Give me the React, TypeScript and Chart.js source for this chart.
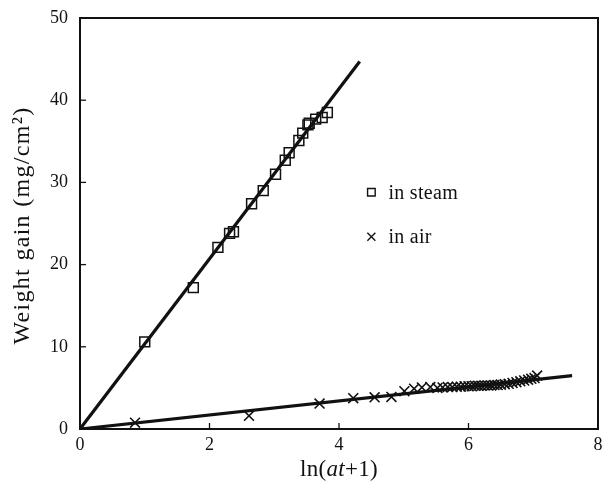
import React, { useEffect, useRef } from 'react';
import { Chart, registerables } from 'chart.js';

Chart.register(...registerables);

// ---- data ----
const steamX = [1.0, 1.75, 2.13, 2.31, 2.37, 2.65, 2.83, 3.02, 3.17, 3.23, 3.38, 3.44, 3.52, 3.54, 3.64, 3.74, 3.82];
const steamY = [10.6, 17.2, 22.1, 23.8, 24.0, 27.4, 29.0, 31.0, 32.7, 33.6, 35.1, 36.0, 37.0, 37.2, 37.7, 37.9, 38.5];

const airX = [0.85, 2.61, 3.70, 4.22, 4.55, 4.81, 5.01, 5.16, 5.28, 5.41, 5.52, 5.60, 5.68, 5.75, 5.82, 5.88, 5.94, 6.00, 6.05, 6.10, 6.15, 6.20, 6.25, 6.30, 6.35, 6.40, 6.45, 6.50, 6.56, 6.62, 6.68, 6.74, 6.80, 6.86, 6.92, 6.97, 7.02, 7.06];
const airY = [0.77, 1.6, 3.1, 3.75, 3.85, 3.9, 4.6, 4.9, 5.05, 5.1, 5.0, 5.05, 5.1, 5.1, 5.15, 5.15, 5.2, 5.2, 5.2, 5.25, 5.25, 5.25, 5.3, 5.3, 5.3, 5.35, 5.35, 5.4, 5.45, 5.5, 5.6, 5.7, 5.8, 5.9, 6.0, 6.1, 6.2, 6.5];

const steamFitX = [0, 4.32];
const steamFitY = [0, 44.7];
const airFitX = [0, 7.6];
const airFitY = [0, 6.5];

const xTicks = [0, 2, 4, 6, 8];
const yTicks = [0, 10, 20, 30, 40, 50];
const legendLabels = ['in steam', 'in air'];
const legendPos = [[4.5, 28.8], [4.5, 23.4]];
const yTitle = 'Weight gain (mg/cm²)';

const FONT = '"Liberation Serif", "DejaVu Serif", serif';

const toPts = (xs: number[], ys: number[]) => xs.map((x, i) => ({ x, y: ys[i] }));

const framePlugin = {
  id: 'frame',
  afterDraw(chart: any) {
    const { ctx, chartArea: a, scales } = chart;
    ctx.save();
    ctx.strokeStyle = '#111';
    ctx.lineWidth = 2;
    ctx.strokeRect(a.left, a.top, a.right - a.left, a.bottom - a.top);
    // inward ticks
    ctx.lineWidth = 1.3;
    xTicks.forEach((v) => {
      const px = scales.x.getPixelForValue(v);
      ctx.beginPath();
      ctx.moveTo(px, a.bottom);
      ctx.lineTo(px, a.bottom - 6);
      ctx.stroke();
    });
    yTicks.forEach((v) => {
      const py = scales.y.getPixelForValue(v);
      ctx.beginPath();
      ctx.moveTo(a.left, py);
      ctx.lineTo(a.left + 6, py);
      ctx.stroke();
    });

    // legend
    ctx.fillStyle = '#111';
    ctx.font = `20px ${FONT}`;
    ctx.textBaseline = 'middle';
    ctx.textAlign = 'left';
    try { (ctx as any).letterSpacing = '0.3px'; } catch (e) {}
    legendPos.forEach(([lx, ly], i) => {
      const px = scales.x.getPixelForValue(lx);
      const py = scales.y.getPixelForValue(ly);
      ctx.lineWidth = 1.4;
      ctx.beginPath();
      if (i === 0) {
        ctx.rect(px - 3.8, py - 3.8, 7.6, 7.6);
      } else {
        ctx.moveTo(px - 4, py - 4);
        ctx.lineTo(px + 4, py + 4);
        ctx.moveTo(px + 4, py - 4);
        ctx.lineTo(px - 4, py + 4);
      }
      ctx.stroke();
      ctx.fillText(legendLabels[i], px + 17, py + 1);
    });

    // x title: ln(at+1) with italic "at"
    try { (ctx as any).letterSpacing = '0.3px'; } catch (e) {}
    const parts: [string, boolean][] = [['ln(', false], ['at', true], ['+1)', false]];
    let total = 0;
    parts.forEach(([t, it]) => {
      ctx.font = `${it ? 'italic ' : ''}23px ${FONT}`;
      total += ctx.measureText(t).width;
    });
    let cx = (a.left + a.right) / 2 - total / 2;
    ctx.textBaseline = 'alphabetic';
    parts.forEach(([t, it]) => {
      ctx.font = `${it ? 'italic ' : ''}23px ${FONT}`;
      ctx.fillText(t, cx, 476);
      cx += ctx.measureText(t).width;
    });

    // y title
    ctx.save();
    try { (ctx as any).letterSpacing = '1.3px'; } catch (e) {}
    ctx.translate(23, (a.top + a.bottom) / 2 + 2);
    ctx.rotate(-Math.PI / 2);
    ctx.font = `24px ${FONT}`;
    ctx.textAlign = 'center';
    ctx.textBaseline = 'middle';
    ctx.fillText(yTitle, 0, 0);
    ctx.restore();

    ctx.restore();
  },
};

export default function App() {
  const ref = useRef<HTMLCanvasElement | null>(null);

  useEffect(() => {
    if (!ref.current) return;
    const chart = new Chart(ref.current, {
      type: 'scatter',
      data: {
        datasets: [
          {
            label: 'steam fit',
            data: toPts(steamFitX, steamFitY),
            showLine: true,
            borderColor: '#111',
            borderWidth: 3.2,
            pointRadius: 0,
          },
          {
            label: 'air fit',
            data: toPts(airFitX, airFitY),
            showLine: true,
            borderColor: '#111',
            borderWidth: 3.2,
            pointRadius: 0,
          },
          {
            label: legendLabels[0],
            data: toPts(steamX, steamY),
            pointStyle: 'rect',
            pointRadius: 7,
            pointBorderWidth: 1.5,
            pointBorderColor: '#111',
            pointBackgroundColor: 'rgba(0,0,0,0)',
            showLine: false,
          },
          {
            label: legendLabels[1],
            data: toPts(airX, airY),
            pointStyle: 'crossRot',
            pointRadius: 7,
            pointBorderWidth: 1.6,
            pointBorderColor: '#111',
            showLine: false,
          },
        ],
      },
      options: {
        animation: false,
        responsive: false,
        maintainAspectRatio: false,
        layout: { autoPadding: false, padding: { top: 18, right: 4, left: 0, bottom: 0 } },
        plugins: { legend: { display: false }, tooltip: { enabled: false } },
        scales: {
          x: {
            type: 'linear',
            min: 0,
            max: 8,
            afterBuildTicks: (s: any) => {
              s.ticks = xTicks.map((v) => ({ value: v }));
            },
            afterFit: (s: any) => {
              s.height = 56;
              s.paddingLeft = 0;
              s.paddingRight = 0;
            },
            grid: { display: false, drawTicks: false },
            border: { display: false },
            ticks: { color: '#111', font: { family: FONT, size: 18 }, padding: 5, maxRotation: 0 },
          },
          y: {
            type: 'linear',
            min: 0,
            max: 50,
            afterBuildTicks: (s: any) => {
              s.ticks = yTicks.map((v) => ({ value: v }));
            },
            afterFit: (s: any) => {
              s.width = 80;
              s.paddingTop = 0;
              s.paddingBottom = 0;
            },
            grid: { display: false, drawTicks: false },
            border: { display: false },
            ticks: { color: '#111', font: { family: FONT, size: 18 }, padding: 12 },
          },
        },
      },
      plugins: [framePlugin],
    });
    return () => chart.destroy();
  }, []);

  return (
    <div style={{ position: 'fixed', left: 0, top: 0, width: 602, height: 485, background: '#fff' }}>
      <canvas ref={ref} width={602} height={485} style={{ width: 602, height: 485, display: 'block' }} />
    </div>
  );
}
